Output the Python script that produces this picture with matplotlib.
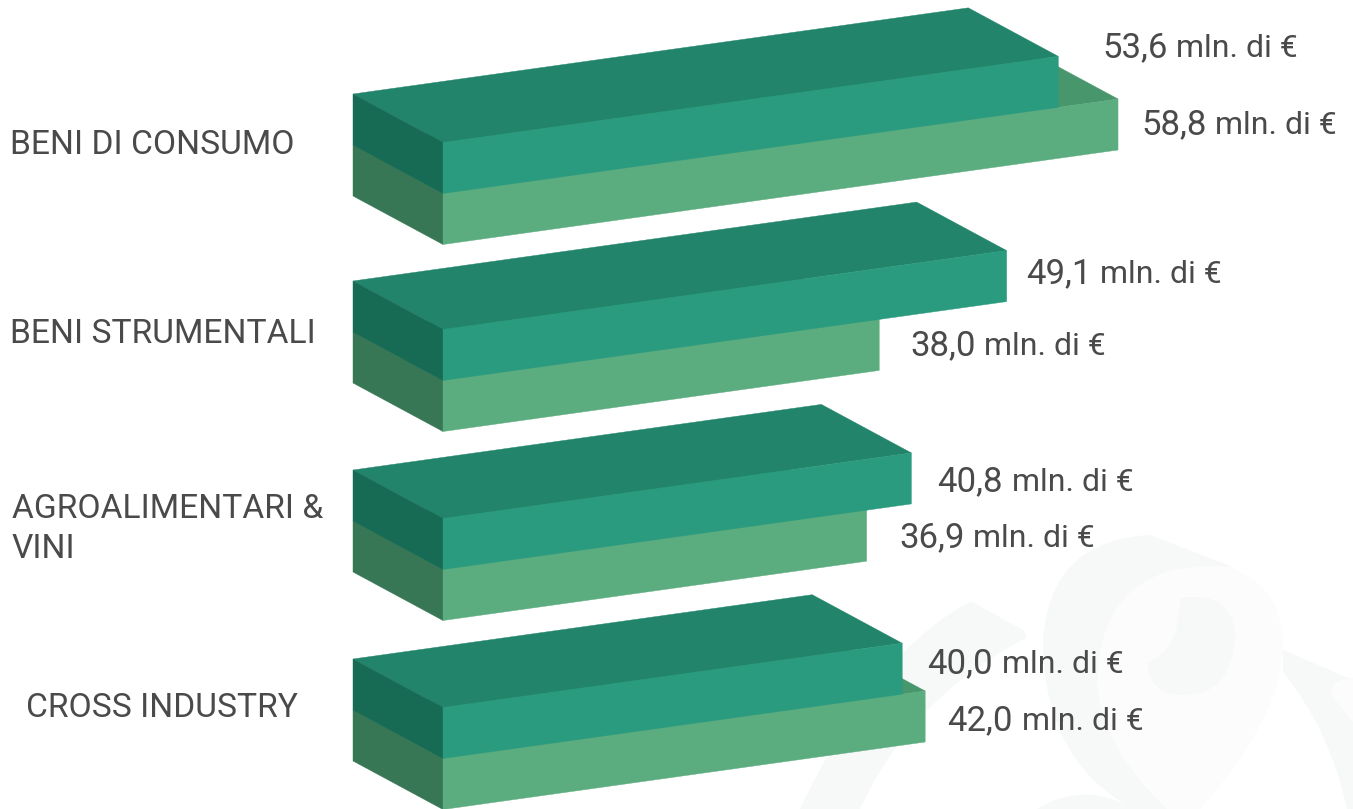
import matplotlib
matplotlib.use('Agg')
import matplotlib.pyplot as plt
from matplotlib.patches import PathPatch, Polygon
from matplotlib.path import Path

categories = ['BENI DI CONSUMO', 'BENI STRUMENTALI', 'AGROALIMENTARI &\nVINI', 'CROSS INDUSTRY']
upper_values = [53.6, 49.1, 40.8, 40.0]
lower_values = [58.8, 38.0, 36.9, 42.0]
upper_labels = ['53,6', '49,1', '40,8', '40,0']
lower_labels = ['58,8', '38,0', '36,9', '42,0']
UNIT = 'mln. di €'

# layout in pixels
X0 = 443
PX_PER_VALUE = 11.48
SLOPE = -0.14
DEPTH_X, DEPTH_Y = -90, -48.5
HEIGHT = 51
front_tops = [142.5, 329.5, 518.5, 707.5]
cat_pos = [(10, 154), (10, 343), (12, 558), (26, 717)]
upper_pos = [(1102, 57), (1026, 283), (937, 491), (927, 673)]
lower_pos = [(1141, 134), (910, 355), (899, 547), (947, 730)]
UNIT_GAP = 9

TEXT = '#4a4a4a'
UPPER = {'top': '#22856b', 'front': '#2a9b7e', 'side': '#176b54'}
LOWER = {'top': '#48966b', 'front': '#5bac7e', 'side': '#377755'}
MARK = '#f7f8f8'
MARK_PALE = '#fcfcfc'


def box(ax, value, y0, colors):
    length = value * PX_PER_VALUE
    x1 = X0 + length
    y1 = y0 + length * SLOPE
    top = [(X0, y0), (x1, y1), (x1 + DEPTH_X, y1 + DEPTH_Y), (X0 + DEPTH_X, y0 + DEPTH_Y)]
    front = [(X0, y0), (x1, y1), (x1, y1 + HEIGHT), (X0, y0 + HEIGHT)]
    side = [(X0, y0), (X0 + DEPTH_X, y0 + DEPTH_Y),
            (X0 + DEPTH_X, y0 + DEPTH_Y + HEIGHT), (X0, y0 + HEIGHT)]
    for pts, key in [(top, 'top'), (side, 'side'), (front, 'front')]:
        ax.add_patch(Polygon(pts, closed=True, facecolor=colors[key],
                             edgecolor=colors[key], linewidth=0.3))


def value_label(ax, renderer, x, y, num):
    t = ax.text(x, y, num, fontsize=25, color=TEXT, family='Roboto', va='baseline')
    end = t.get_window_extent(renderer).x1
    ax.text(end + UNIT_GAP, y, UNIT, fontsize=23, color=TEXT, family='Roboto', va='baseline')


def shape(ax, start, segments, color):
    # segment of one point is a line, of two points a quadratic curve
    verts = [start]
    codes = [Path.MOVETO]
    for seg in segments:
        verts.extend(seg)
        codes.extend([Path.LINETO] if len(seg) == 1 else [Path.CURVE3, Path.CURVE3])
    verts.append(start)
    codes.append(Path.CLOSEPOLY)
    ax.add_patch(PathPatch(Path(verts, codes), facecolor=color, edgecolor='none', zorder=0))


fig = plt.figure(figsize=(13.53, 8.09), dpi=100)
ax = fig.add_axes([0, 0, 1, 1])
ax.set_xlim(0, 1353)
ax.set_ylim(809, 0)
ax.axis('off')
renderer = fig.canvas.get_renderer()

# watermark in the corner
shape(ax, (1200, 562), [[(1283, 570), (1283, 647)], [(1280, 720), (1200, 809)], [(1167, 809)],
                        [(1097, 740), (1097, 683)], [(1100, 570), (1200, 562)]], MARK_PALE)
shape(ax, (1150, 535), [[(1233, 567)], [(1100, 555), (1097, 683)], [(1100, 745), (1167, 809)],
                        [(1133, 809)], [(1043, 760), (1043, 640)], [(1050, 540), (1150, 535)]], MARK)
shape(ax, (1180, 598), [[(1235, 590), (1235, 640)], [(1230, 695), (1183, 695)], [(1150, 695), (1147, 663)],
                        [(1180, 650), (1180, 598)]], MARK)
shape(ax, (800, 809), [[(870, 660), (965, 604)], [(972, 602)], [(1023, 630)], [(1030, 640), (1022, 640)],
                       [(910, 700), (860, 809)]], MARK)
shape(ax, (1037, 809), [[(1085, 780), (1133, 809)]], MARK)
shape(ax, (1283, 650), [[(1353, 680)], [(1353, 809)], [(1347, 809)], [(1330, 730), (1283, 672)]], MARK)
shape(ax, (1353, 678), [[(1328, 680), (1331, 695)], [(1353, 722)]], MARK_PALE)

for i in range(len(categories)):
    y0 = front_tops[i]
    box(ax, lower_values[i], y0 + HEIGHT, LOWER)
    box(ax, upper_values[i], y0, UPPER)
    value_label(ax, renderer, upper_pos[i][0], upper_pos[i][1], upper_labels[i])
    value_label(ax, renderer, lower_pos[i][0], lower_pos[i][1], lower_labels[i])
    ax.text(cat_pos[i][0], cat_pos[i][1], categories[i], fontsize=24.2, color=TEXT,
            family='Roboto', va='baseline', linespacing=1.3)

fig.savefig('out.png', dpi=100)
